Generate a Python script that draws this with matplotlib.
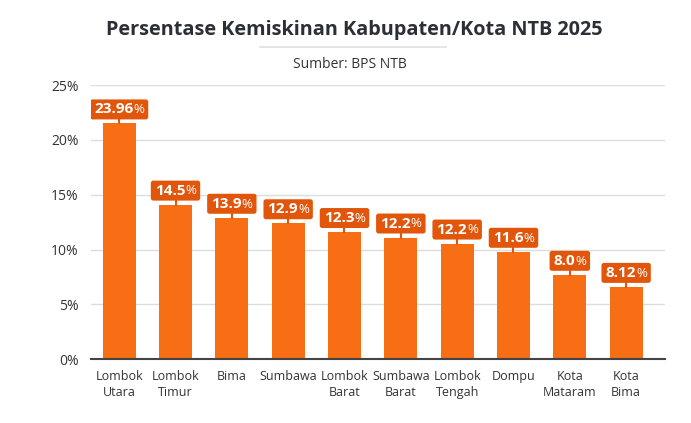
import matplotlib
matplotlib.use("Agg")
import matplotlib.pyplot as plt
import matplotlib.transforms as mtransforms
from matplotlib.patches import FancyBboxPatch
from matplotlib.lines import Line2D

categories = ["Lombok\nUtara", "Lombok\nTimur", "Bima", "Sumbawa", "Lombok\nBarat",
              "Sumbawa\nBarat", "Lombok\nTengah", "Dompu", "Kota\nMataram", "Kota\nBima"]
bar_values = [21.5, 14.1, 12.9, 12.4, 11.6, 11.1, 10.55, 9.8, 7.7, 6.6]
label_texts = ["23.96", "14.5", "13.9", "12.9", "12.3", "12.2", "12.2", "11.6", "8.0", "8.12"]
y_ticks = [0, 5, 10, 15, 20, 25]

BAR = "#F86E14"
BOX = "#E2560C"
DARK = "#2B2F36"
FONT = ["Open Sans", "DejaVu Sans"]
plt.rcParams["font.family"] = FONT

fig = plt.figure(figsize=(6.91, 4.23), dpi=100)
fig.patch.set_facecolor("white")
ax = fig.add_axes([0.1317, 0.1506, 0.8307, 0.6484])

x = list(range(len(categories)))
ax.bar(x, bar_values, width=0.59, color=BAR, zorder=3)
ax.set_xlim(-0.5, 9.69)
ax.set_ylim(0, 25)
ax.set_yticks(y_ticks)
ax.set_yticklabels([f"{t}%" for t in y_ticks], fontsize=10, color="#333333")
ax.set_xticks(x)
ax.set_xticklabels(categories, fontsize=9, color="#333333", linespacing=1.3)
ax.tick_params(axis="both", length=0)
ax.tick_params(axis="y", pad=9)
ax.tick_params(axis="x", pad=8)
for s in ["top", "right", "left"]:
    ax.spines[s].set_visible(False)
ax.spines["bottom"].set_color("#444444")
ax.spines["bottom"].set_linewidth(1.5)
ax.spines["bottom"].set_zorder(4)
ax.yaxis.grid(True, color="#DDDDDD", linewidth=1, zorder=0)
ax.set_axisbelow(True)

# Title, underline, subtitle
fig.text(0.512, 1 - 30 / 423, "Persentase Kemiskinan Kabupaten/Kota NTB 2025",
         ha="center", va="center", fontsize=14.3, fontweight="bold", color=DARK)
fig.add_artist(Line2D([260 / 691, 446 / 691], [1 - 47.5 / 423, 1 - 47.5 / 423],
                      color="#E3E3E3", linewidth=1.3, transform=fig.transFigure))
fig.text(0.507, 1 - 64 / 423, "Sumber: BPS NTB", ha="center", va="center",
         fontsize=10, color="#333333")

# Value labels
fig.canvas.draw()
renderer = fig.canvas.get_renderer()
ident = mtransforms.IdentityTransform()
for i, (v, lab) in enumerate(zip(bar_values, label_texts)):
    cx, top = ax.transData.transform((i, v))
    t1 = ax.text(0, 0, lab, fontsize=11, fontweight="bold", color="white",
                 transform=ident, ha="left", va="center", zorder=6)
    t2 = ax.text(0, 0, "%", fontsize=9.5, color="white",
                 transform=ident, ha="left", va="center", zorder=6)
    w1 = t1.get_window_extent(renderer).width
    w2 = t2.get_window_extent(renderer).width
    pad = 4
    w = w1 + w2 + 2 * pad
    h = 20
    y0 = top + 4
    box = FancyBboxPatch((cx - w / 2, y0), w, h,
                         boxstyle="round,pad=0,rounding_size=2.5",
                         facecolor=BOX, edgecolor="none", transform=ident, zorder=5)
    ax.add_patch(box)
    ax.add_line(Line2D([cx, cx], [top, y0], color=BOX, linewidth=1.5,
                       transform=ident, zorder=5))
    yc = y0 + h / 2
    t1.set_position((cx - w / 2 + pad, yc))
    t2.set_position((cx - w / 2 + pad + w1, yc - 0.3))

fig.savefig("out.png", dpi=100, facecolor="white")
